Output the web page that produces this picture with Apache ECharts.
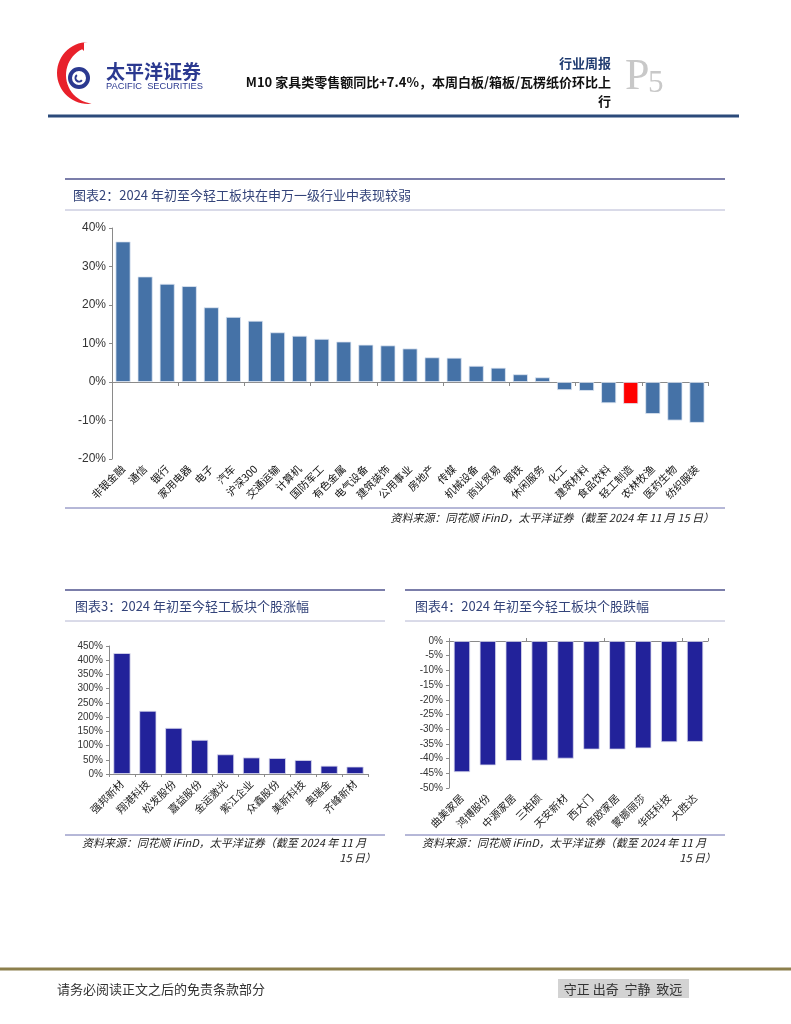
<!DOCTYPE html>
<html><head><meta charset="utf-8">
<script src="https://cdn.jsdelivr.net/npm/echarts@6/dist/echarts.min.js"></script>
<style>html,body{margin:0;padding:0;background:#fff}#c{width:791px;height:1024px}</style>
</head><body><div id="c"></div>
<script>
// ---- data ----
const industryNames = ['非银金融','通信','银行','家用电器','电子','汽车','沪深300','交通运输','计算机','国防军工','有色金属','电气设备','建筑装饰','公用事业','房地产','传媒','机械设备','商业贸易','钢铁','休闲服务','化工','建筑材料','食品饮料','轻工制造','农林牧渔','医药生物','纺织服装'];
const industryValues = [36.5, 27.4, 25.5, 24.9, 19.4, 16.9, 15.9, 12.9, 12.0, 11.2, 10.5, 9.7, 9.5, 8.7, 6.4, 6.3, 4.2, 3.7, 2.0, 1.2, -2.1, -2.3, -5.5, -5.7, -8.3, -10.0, -10.6];
const highlightIndustry = '轻工制造';
const gainNames = ['强邦新材','翔港科技','松发股份','嘉益股份','金运激光','紫江企业','众鑫股份','美新科技','奥瑞金','齐峰新材'];
const gainValues = [425, 222, 162, 120, 69, 58, 56, 49, 29, 26];
const lossNames = ['曲美家居','鸿博股份','中源家居','三柏硕','天安新材','西大门','帝欧家居','蒙娜丽莎','华旺科技','大胜达'];
const lossValues = [-44.6, -42.3, -40.8, -40.7, -40.0, -36.9, -36.9, -36.5, -34.4, -34.3];

const CJK = '"Noto Sans CJK SC", sans-serif';
const LAT = '"Liberation Sans", Arial, sans-serif';

function T(text, x, y, font, fill, align, vAlign) {
  return {type:'text', silent:true, style:{text:text, x:x, y:y, font:font, fill:fill,
    align:align||'left', verticalAlign:vAlign||'middle', textAlign:align||'left', textVerticalAlign:vAlign||'middle'}};
}
function L(x1, y1, x2, y2, stroke, w) {
  return {type:'line', silent:true, shape:{x1:x1,y1:y1,x2:x2,y2:y2}, style:{stroke:stroke, lineWidth:w}};
}
// logo crescent outline (decoration)
function crescentPoints() {
  const pts = [];
  for (let a = 270; a >= 90; a -= 6) {
    const r = a * Math.PI / 180;
    pts.push([88 + 31 * Math.cos(r), 73 + 31 * Math.sin(r)]);
  }
  for (let a = 95; a <= 250; a += 6) {
    const r = a * Math.PI / 180;
    pts.push([94 + 28 * Math.cos(r), 75 + 28.5 * Math.sin(r)]);
  }
  pts.push([84, 51]);
  pts.push([84, 42]);
  return pts;
}

const srcFull = '资料来源：同花顺 iFinD，太平洋证券（截至 2024 年 11 月 15 日）';
const srcL1 = '资料来源：同花顺 iFinD，太平洋证券（截至 2024 年 11 月';
const srcL2 = '15 日）';
const srcFont = 'italic 11px ' + CJK;

const graphics = [
  // logo
  {type:'polygon', silent:true, shape:{points:crescentPoints()}, style:{fill:'#e8212b'}},
  {type:'circle', silent:true, shape:{cx:79, cy:78, r:9}, style:{fill:'none', stroke:'#2b3990', lineWidth:4}},
  {type:'arc', silent:true, shape:{cx:79, cy:78, r:3.5, startAngle:Math.PI*0.2, endAngle:Math.PI*1.3}, style:{fill:'none', stroke:'#2b3990', lineWidth:2}},
  T('太平洋证券', 106, 72, 'bold 19px ' + CJK, '#2b3990'),
  T('PACIFIC  SECURITIES', 106, 86, '9.3px ' + LAT, '#2b3990'),
  // header right
  T('行业周报', 611, 63, 'bold 13px ' + CJK, '#1f3b70', 'right'),
  T('M10 家具类零售额同比+7.4%，本周白板/箱板/瓦楞纸价环比上', 611, 82, 'bold 13px ' + CJK, '#111', 'right'),
  T('行', 611, 101, 'bold 13px ' + CJK, '#111', 'right'),
  T('P', 625, 99, '44px "Liberation Serif", serif', '#c8c8c8', 'left', 'bottom'),
  T('5', 648, 99, '31px "Liberation Serif", serif', '#c8c8c8', 'left', 'bottom'),
  L(48, 116, 739, 116, '#2b4a7a', 3),

  // chart 2 box
  L(65, 179, 725, 179, '#7b7eaa', 2),
  T('图表2：2024 年初至今轻工板块在申万一级行业中表现较弱', 73, 195, '13px ' + CJK, '#34447a'),
  L(65, 210, 725, 210, '#b4b6d2', 1),
  L(65, 508, 725, 508, '#6c70b0', 1),
  T(srcFull, 714, 518, srcFont, '#222', 'right'),

  // chart 3 box
  L(65, 590, 385, 590, '#7b7eaa', 2),
  T('图表3：2024 年初至今轻工板块个股涨幅', 75, 606, '13px ' + CJK, '#34447a'),
  L(65, 621, 385, 621, '#b4b6d2', 1),
  L(65, 835, 385, 835, '#6c70b0', 1),
  T(srcL1, 82, 843, srcFont, '#222', 'left'),
  T(srcL2, 376, 858, srcFont, '#222', 'right'),

  // chart 4 box
  L(405, 590, 725, 590, '#7b7eaa', 2),
  T('图表4：2024 年初至今轻工板块个股跌幅', 415, 606, '13px ' + CJK, '#34447a'),
  L(405, 621, 725, 621, '#b4b6d2', 1),
  L(405, 835, 725, 835, '#6c70b0', 1),
  T(srcL1, 422, 843, srcFont, '#222', 'left'),
  T(srcL2, 716, 858, srcFont, '#222', 'right'),

  // footer
  L(0, 969, 791, 969, '#8c7f4c', 3),
  T('请务必阅读正文之后的免责条款部分', 57, 989, '13px ' + CJK, '#333'),
  {type:'rect', silent:true, shape:{x:558, y:979, width:131, height:19}, style:{fill:'#d3d3d3'}},
  T('守正 出奇  宁静  致远', 623, 989, '13px ' + CJK, '#333', 'center')
];

const axisGray = '#8a8a8a';
function valueAxis(grid, min, max, interval, fontSize) {
  return {type:'value', gridIndex:grid, min:min, max:max, interval:interval,
    axisLine:{show:true, lineStyle:{color:axisGray, width:1}},
    axisTick:{show:true, length:3, lineStyle:{color:axisGray}},
    splitLine:{show:false},
    axisLabel:{formatter:'{value}%', fontSize:fontSize, fontFamily:LAT, color:'#333', margin:6}};
}

const option = {
  animation:false,
  backgroundColor:'#fff',
  graphic:graphics,
  grid:[
    {left:112, top:228, width:596, height:231, containLabel:false, outerBoundsMode:'none'},
    {left:109, top:646, width:259, height:128, containLabel:false, outerBoundsMode:'none'},
    {left:449, top:641, width:259, height:147, containLabel:false, outerBoundsMode:'none'}
  ],
  xAxis:[
    {type:'category', gridIndex:0, data:industryNames, position:'bottom',
      axisLine:{show:false, onZero:false}, axisTick:{show:false},
      axisLabel:{interval:0, rotate:45, fontSize:10.5, fontFamily:CJK, color:'#111', margin:8}},
    {type:'category', gridIndex:0, data:industryNames, position:'bottom',
      axisLine:{show:true, onZero:true, lineStyle:{color:axisGray}},
      axisTick:{show:true, length:4, lineStyle:{color:axisGray}}, axisLabel:{show:false}},
    {type:'category', gridIndex:1, data:gainNames, position:'bottom',
      axisLine:{show:true, lineStyle:{color:axisGray}},
      axisTick:{show:true, length:3, lineStyle:{color:axisGray}},
      axisLabel:{interval:0, rotate:45, fontSize:10.5, fontFamily:CJK, color:'#222', margin:8}},
    {type:'category', gridIndex:2, data:lossNames, position:'bottom',
      axisLine:{show:false, onZero:false}, axisTick:{show:false},
      axisLabel:{interval:0, rotate:45, fontSize:10.5, fontFamily:CJK, color:'#222', margin:8}},
    {type:'category', gridIndex:2, data:lossNames, position:'top',
      axisLine:{show:true, onZero:false, lineStyle:{color:axisGray}},
      axisTick:{show:true, length:3, lineStyle:{color:axisGray}}, axisLabel:{show:false}}
  ],
  yAxis:[
    valueAxis(0, -20, 40, 10, 12),
    valueAxis(1, 0, 450, 50, 10),
    valueAxis(2, -50, 0, 5, 10)
  ],
  series:[
    {type:'bar', xAxisIndex:0, yAxisIndex:0, barCategoryGap:'32%',
      data:industryValues.map(function(v, i){
        return industryNames[i] === highlightIndustry ? {value:v, itemStyle:{color:'#ff0000'}} : v;
      }),
      itemStyle:{color:'#4572a7', borderColor:'#dfe7f2', borderWidth:0.8}},
    {type:'bar', xAxisIndex:2, yAxisIndex:1, barCategoryGap:'34%', data:gainValues,
      itemStyle:{color:'#22229a', borderColor:'#dcdcee', borderWidth:0.8}},
    {type:'bar', xAxisIndex:3, yAxisIndex:2, barCategoryGap:'37%', data:lossValues,
      itemStyle:{color:'#22229a', borderColor:'#dcdcee', borderWidth:0.8}}
  ]
};
const chart = echarts.init(document.getElementById('c'), null, {renderer:'canvas'});
chart.setOption(option);
</script></body></html>
